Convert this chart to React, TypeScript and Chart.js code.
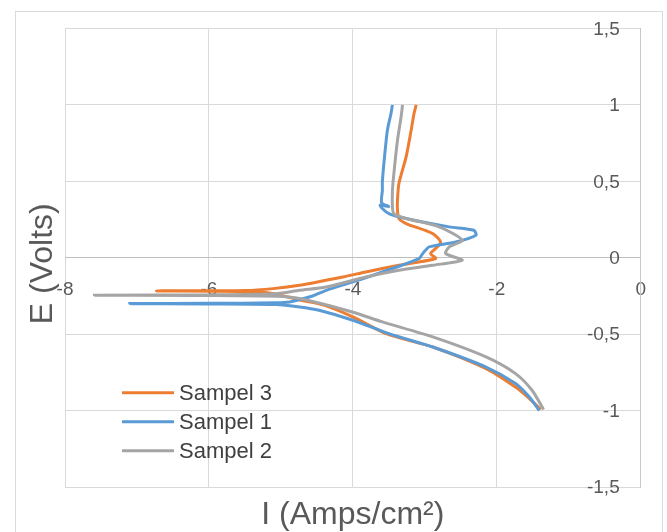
import React, { useEffect, useRef } from "react";
import { Chart, registerables } from "chart.js";

Chart.register(...registerables);

const FONT = '"Liberation Sans", Arial, sans-serif';

// Series (log I, E), in scan order
const s3X = [-1.39, -1.55, -1.74, -2.15, -2.89, -3.52, -4.0, -4.4, -4.75, -5.1, -5.5, -6.73, -5.5, -5.11, -4.74, -4.14, -3.82, -3.36, -2.85, -2.92, -2.85, -2.78, -2.89, -3.26, -3.36, -3.38, -3.38, -3.36, -3.26, -3.19, -3.15, -3.12];
const s3E = [-0.993, -0.92, -0.846, -0.725, -0.584, -0.5, -0.387, -0.31, -0.275, -0.235, -0.221, -0.217, -0.214, -0.202, -0.18, -0.126, -0.093, -0.049, -0.005, 0.027, 0.06, 0.103, 0.158, 0.224, 0.257, 0.311, 0.376, 0.486, 0.66, 0.834, 0.944, 1.0];

const s1X = [-1.41, -1.55, -1.74, -2.15, -2.89, -3.48, -4.0, -4.47, -4.74, -5.07, -6.0, -7.1, -6.0, -5.07, -4.88, -4.56, -4.37, -4.0, -3.59, -3.08, -3.03, -2.99, -2.94, -2.57, -2.29, -2.32, -2.66, -3.26, -3.5, -3.59, -3.62, -3.5, -3.6, -3.59, -3.59, -3.56, -3.52, -3.47, -3.45];
const s1E = [-1.0, -0.91, -0.823, -0.715, -0.584, -0.5, -0.409, -0.344, -0.322, -0.306, -0.302, -0.3, -0.298, -0.295, -0.289, -0.25, -0.213, -0.158, -0.093, -0.005, 0.027, 0.049, 0.071, 0.103, 0.147, 0.18, 0.202, 0.257, 0.289, 0.322, 0.344, 0.335, 0.36, 0.44, 0.497, 0.66, 0.834, 0.944, 1.0];

const s2X = [-1.35, -1.51, -1.74, -2.15, -2.89, -3.59, -4.01, -4.74, -5.07, -6.0, -7.59, -6.0, -5.07, -4.74, -4.37, -3.82, -3.36, -2.89, -2.48, -2.71, -2.66, -2.48, -2.8, -3.26, -3.43, -3.45, -3.45, -3.43, -3.38, -3.33, -3.31];
const s2E = [-0.993, -0.867, -0.758, -0.649, -0.518, -0.42, -0.355, -0.267, -0.252, -0.247, -0.245, -0.243, -0.236, -0.213, -0.191, -0.126, -0.082, -0.049, -0.016, 0.027, 0.071, 0.115, 0.202, 0.257, 0.289, 0.332, 0.44, 0.551, 0.769, 0.921, 1.0];

const seriesNames = ["Sampel 3", "Sampel 1", "Sampel 2"];
const seriesColors = ["#ED7D31", "#5B9BD5", "#A5A5A5"];
const seriesX = [s3X, s1X, s2X];
const seriesE = [s3E, s1E, s2E];
const drawOrder = [2, 1, 0];

const xMin = -8;
const xMax = 0;
const xStep = 2;
const yMin = -1.5;
const yMax = 1.5;
const yStep = 0.5;
const xTitle = "I (Amps/cm²)";
const yTitle = "E (Volts)";

const extrasPlugin = {
  id: "extras",
  afterDraw(chart: any) {
    const { ctx, chartArea } = chart;
    const a = chartArea;
    ctx.save();
    // y tick labels (inside the plot, right aligned, decimal comma)
    const ys = chart.scales.y;
    ctx.fillStyle = "#595959";
    ctx.font = `19px ${FONT}`;
    ctx.textAlign = "right";
    ctx.textBaseline = "middle";
    ys.ticks.forEach((t: any) => {
      ctx.fillText(String(t.value).replace(".", ","), a.right - 21, ys.getPixelForValue(t.value) + 1);
    });
    // axis titles
    ctx.font = `32px ${FONT}`;
    ctx.textAlign = "center";
    ctx.textBaseline = "alphabetic";
    ctx.fillText(xTitle, (a.left + a.right) / 2, a.bottom + 37);
    ctx.save();
    ctx.translate(a.left - 13.5, (a.top + a.bottom) / 2 + 6);
    ctx.rotate(-Math.PI / 2);
    ctx.fillText(yTitle, 0, 0);
    ctx.restore();
    // legend
    ctx.font = `22px ${FONT}`;
    ctx.textAlign = "left";
    ctx.textBaseline = "middle";
    seriesNames.forEach((name, i) => {
      const y = a.bottom - 94.3 + i * 29;
      ctx.strokeStyle = seriesColors[i];
      ctx.lineWidth = 3;
      ctx.beginPath();
      ctx.moveTo(a.left + 57, y);
      ctx.lineTo(a.left + 109, y);
      ctx.stroke();
      ctx.fillStyle = "#404040";
      ctx.fillText(name, a.left + 114, y + 1);
    });
    ctx.restore();
  },
};

export default function App() {
  const ref = useRef<HTMLCanvasElement | null>(null);
  useEffect(() => {
    if (!ref.current) return;
    const datasets = seriesNames.map((name, i) => ({
      label: name,
      data: seriesX[i].map((x, k) => ({ x, y: seriesE[i][k] })),
      borderColor: seriesColors[i],
      backgroundColor: seriesColors[i],
      borderWidth: 3,
      pointRadius: 0,
      showLine: true,
      fill: false,
      tension: 0.25,
      order: drawOrder[i],
    }));
    const chart = new Chart(ref.current, {
      type: "scatter",
      data: { datasets },
      plugins: [extrasPlugin],
      options: {
        animation: false,
        responsive: false,
        maintainAspectRatio: false,
        layout: { padding: { left: 65, right: 25, top: 28.5, bottom: 45 } },
        plugins: { legend: { display: false }, tooltip: { enabled: false } },
        scales: {
          x: {
            type: "linear",
            position: { y: 0 } as any,
            min: xMin,
            max: xMax,
            ticks: {
              stepSize: xStep,
              autoSkip: false,
              padding: 21,
              color: "#595959",
              font: { family: FONT, size: 19 },
              maxRotation: 0,
            },
            grid: { color: "#d9d9d9", lineWidth: 1, drawTicks: false },
            border: { color: "#bfbfbf", width: 1 },
          },
          y: {
            type: "linear",
            position: "right",
            min: yMin,
            max: yMax,
            ticks: { stepSize: yStep, display: false },
            grid: { color: "#d9d9d9", lineWidth: 1, drawTicks: false },
            border: { color: "#c8c8c8", width: 1 },
          },
        },
      },
    });
    return () => chart.destroy();
  }, []);
  return (
    <div style={{ position: "fixed", left: 0, top: 0, width: 667, height: 532, overflow: "hidden", background: "#fff" }}>
      <div
        style={{
          position: "absolute",
          left: 15,
          top: 11,
          width: 646,
          height: 560,
          border: "1px solid #d9d9d9",
        }}
      />
      <canvas ref={ref} width={667} height={532} style={{ position: "absolute", left: 0, top: 0 }} />
    </div>
  );
}
